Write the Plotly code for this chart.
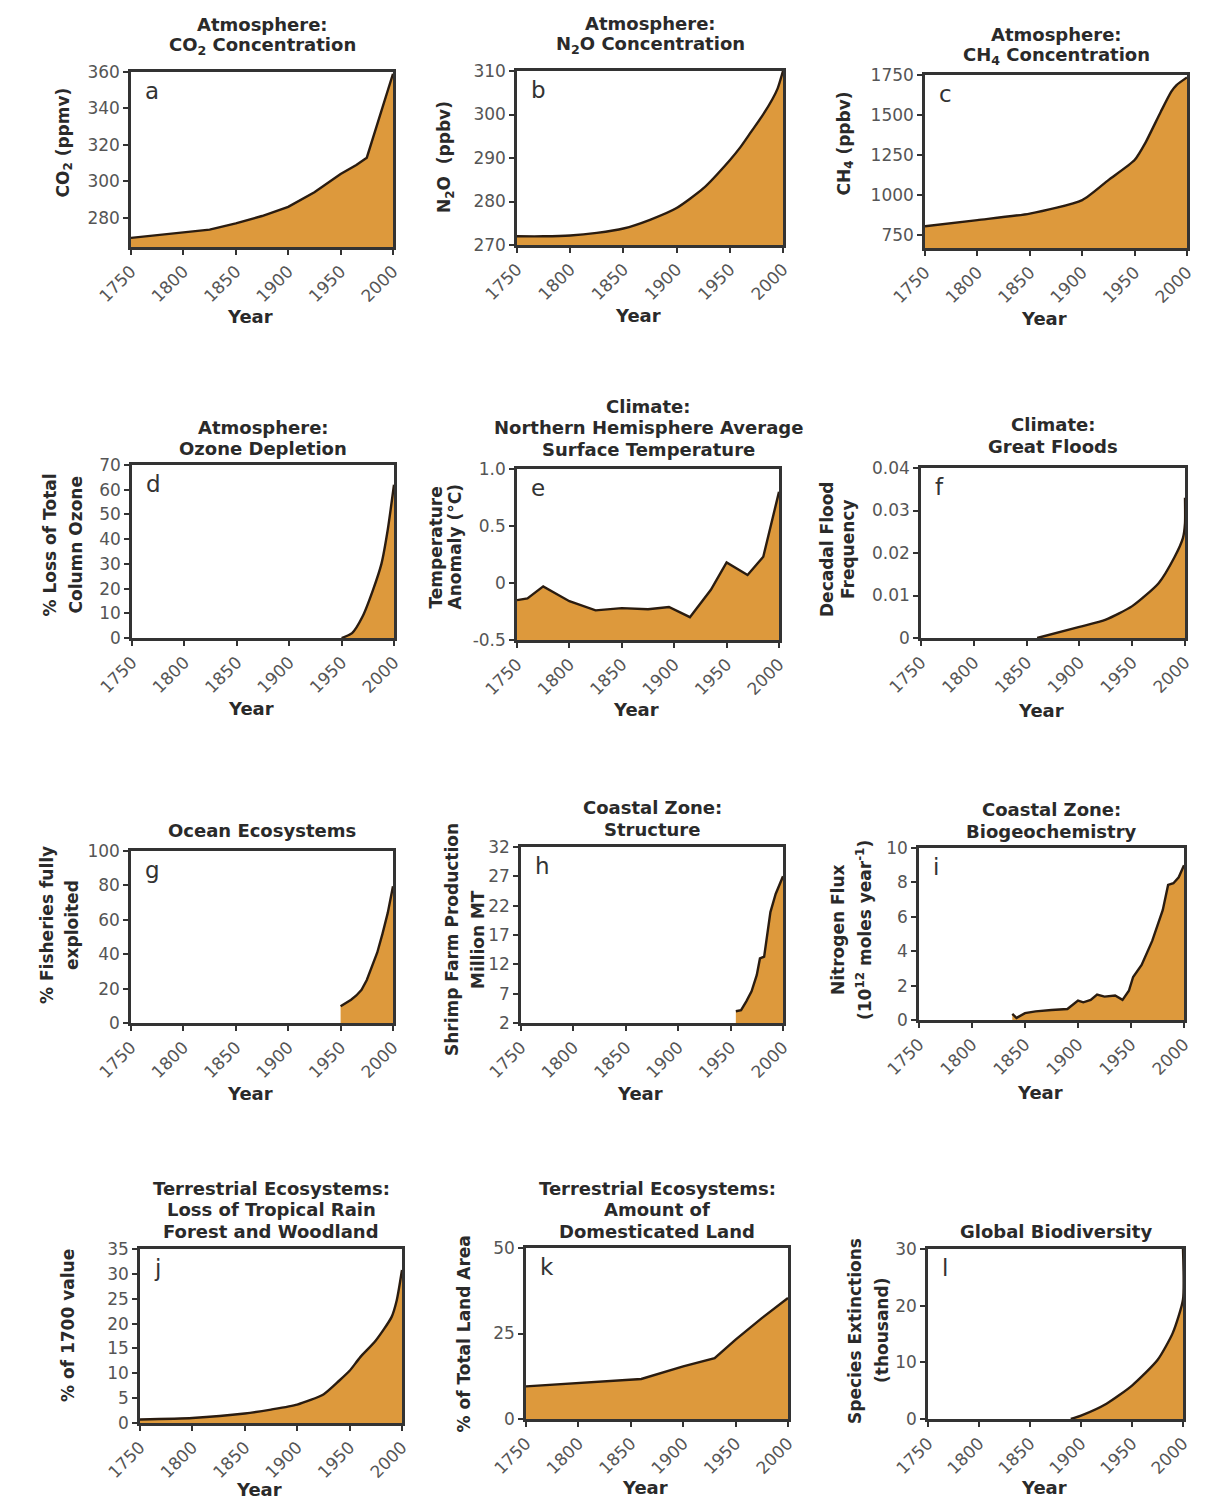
import plotly.graph_objects as go

W, H = 1213, 1499
FILL = "rgb(221,153,60)"
LINE = "#2a1c10"
FRAME = "#333333"
TXT = "#2a2a2a"
TICK = "#555555"
FONT = "DejaVu Sans"

# ---------------- data ----------------
years_a = [1750, 1800, 1825, 1850, 1875, 1900, 1925, 1950, 1965, 1975, 2000]
co2 = [269, 272, 273.5, 277, 281, 286, 294, 304, 309, 313, 359]

years_b = [1750, 1775, 1800, 1825, 1850, 1875, 1900, 1925, 1950, 1960, 1970, 1980, 1990, 1995, 2000]
n2o = [272, 272, 272.2, 272.8, 273.8, 275.8, 278.5, 283, 289.5, 292.5, 296, 299.5, 303.5, 306, 310]

years_c = [1750, 1800, 1850, 1900, 1925, 1950, 1960, 1975, 1985, 1990, 2000]
ch4 = [806, 844, 885, 969, 1094, 1219, 1323, 1521, 1646, 1687, 1735]

years_d = [1950, 1960, 1970, 1980, 1988, 1994, 2000]
ozone = [0, 2, 8.7, 19.5, 30, 43.7, 62]

years_e = [1750, 1760, 1775, 1800, 1825, 1850, 1875, 1895, 1915, 1935, 1950, 1970, 1985, 2000]
temp = [-0.15, -0.135, -0.03, -0.16, -0.24, -0.22, -0.23, -0.21, -0.30, -0.06, 0.18, 0.07, 0.23, 0.80]

years_f = [1860, 1900, 1925, 1950, 1975, 1990, 1998, 2000, 2000]
floods = [0, 0.0026, 0.0043, 0.0075, 0.0129, 0.019, 0.0235, 0.027, 0.033]

years_g = [1950, 1960, 1965, 1970, 1975, 1980, 1985, 1990, 1995, 2000]
fisheries = [9.7, 13.5, 16, 19.3, 25, 33, 41, 52, 64, 79.5]

years_h = [1955, 1960, 1965, 1970, 1975, 1978, 1982, 1985, 1988, 1993, 2000]
shrimp = [4, 4.2, 5.7, 7.4, 10.2, 13, 13.3, 17.2, 20.9, 24, 27]

years_i = [1838, 1842, 1850, 1860, 1875, 1890, 1900, 1905, 1912, 1918, 1925, 1935, 1942,
           1948, 1952, 1960, 1970, 1980, 1985, 1990, 1995, 2000]
nitrogen = [0.35, 0.12, 0.4, 0.5, 0.58, 0.64, 1.13, 1.03, 1.17, 1.48, 1.36, 1.42, 1.17,
            1.7, 2.5, 3.2, 4.6, 6.4, 7.85, 7.95, 8.3, 9.0]

years_j = [1750, 1800, 1850, 1875, 1900, 1925, 1940, 1950, 1960, 1975, 1990, 1995, 2000]
forest = [0.7, 1.0, 1.9, 2.7, 3.7, 5.75, 8.5, 10.5, 13.2, 16.6, 21.3, 24.7, 30.8]

years_k = [1750, 1800, 1860, 1900, 1930, 1950, 1975, 2000]
land = [9.55, 10.5, 11.7, 15.4, 17.8, 23.2, 29.5, 35.4]

years_l = [1890, 1900, 1925, 1950, 1975, 1990, 2000, 2000]
extinctions = [0, 0.6, 2.7, 5.9, 10.4, 15.2, 21.1, 30]

x_ticks = [1750, 1800, 1850, 1900, 1950, 2000]

panels = [
    dict(letter="a", x=years_a, y=co2, yr=[264, 360], yt=[280, 300, 320, 340, 360], ytt=None,
         title=["Atmosphere:", "CO<sub>2</sub> Concentration"], ytitle=["CO<sub>2</sub> (ppmv)"],
         px=(131, 393), py=(72, 247), tgap=25, yoffs=[67], ysh=17, smooth=False, xt=-69),
    dict(letter="b", x=years_b, y=n2o, yr=[270, 310], yt=[270, 280, 290, 300, 310], ytt=None,
         title=["Atmosphere:", "N<sub>2</sub>O Concentration"], ytitle=["N<sub>2</sub>O  (ppbv)"],
         px=(517, 783), py=(71, 245), tgap=25, yoffs=[72], ysh=1, smooth=True, xt=-70),
    dict(letter="c", x=years_c, y=ch4, yr=[670, 1750], yt=[750, 1000, 1250, 1500, 1750], ytt=None,
         title=["Atmosphere:", "CH<sub>4</sub> Concentration"], ytitle=["CH<sub>4</sub> (ppbv)"],
         px=(925, 1187), py=(75, 248), tgap=18, yoffs=[80], ysh=18, smooth=True, xt=-70),
    dict(letter="d", x=years_d, y=ozone, yr=[0, 70], yt=list(range(0, 71, 10)), ytt=None,
         title=["Atmosphere:", "Ozone Depletion"], ytitle=["% Loss of Total", "Column Ozone"],
         px=(132, 394), py=(465, 638), tgap=15, yoffs=[83, 57], ysh=6, smooth=True, xt=-70),
    dict(letter="e", x=years_e, y=temp, yr=[-0.5, 1.0], yt=[-0.5, 0, 0.5, 1.0],
         ytt=["-0.5", "0", "0.5", "1.0"],
         title=["Climate:", "Northern Hemisphere Average", "Surface Temperature"],
         ytitle=["Temperature", "Anomaly (°C)"],
         px=(517, 779), py=(469, 640), tgap=19, yoffs=[81, 62], ysh=7, smooth=False, xt=-70),
    dict(letter="f", x=years_f, y=floods, yr=[0, 0.04], yt=[0, 0.01, 0.02, 0.03, 0.04],
         ytt=["0", "0.01", "0.02", "0.03", "0.04"],
         title=["Climate:", "Great Floods"], ytitle=["Decadal Flood", "Frequency"],
         px=(921, 1185), py=(468, 638), tgap=21, yoffs=[94, 73], ysh=4, smooth=True, xt=-72),
    dict(letter="g", x=years_g, y=fisheries, yr=[0, 100], yt=list(range(0, 101, 20)), ytt=None,
         title=["Ocean Ecosystems"], ytitle=["% Fisheries fully", "exploited"],
         px=(131, 393), py=(851, 1023), tgap=20, yoffs=[84, 59], ysh=12, smooth=False, xt=-70),
    dict(letter="h", x=years_h, y=shrimp, yr=[2, 32], yt=[2, 7, 12, 17, 22, 27, 32], ytt=None,
         title=["Coastal Zone:", "Structure"], ytitle=["Shrimp Farm Production", "Million MT"],
         px=(521, 783), py=(847, 1023), tgap=17, yoffs=[69, 43], ysh=-5, smooth=False, xt=-70),
    dict(letter="i", x=years_i, y=nitrogen, yr=[0, 10], yt=[0, 2, 4, 6, 8, 10], ytt=None,
         title=["Coastal Zone:", "Biogeochemistry"],
         ytitle=["Nitrogen Flux", "(10<sup>12</sup> moles year<sup>-1</sup>)"],
         px=(919, 1184), py=(848, 1020), tgap=16, yoffs=[81, 55], ysh=4, smooth=False, xt=-72),
    dict(letter="j", x=years_j, y=forest, yr=[0, 35], yt=list(range(0, 36, 5)), ytt=None,
         title=["Terrestrial Ecosystems:", "Loss of Tropical Rain", "Forest and Woodland"],
         ytitle=["% of 1700 value"],
         px=(140, 402), py=(1249, 1423), tgap=17, yoffs=[72], ysh=10, smooth=True, xt=-66),
    dict(letter="k", x=years_k, y=land, yr=[0, 50], yt=[0, 25, 50], ytt=None,
         title=["Terrestrial Ecosystems:", "Amount of", "Domesticated Land"],
         ytitle=["% of Total Land Area"],
         px=(526, 788), py=(1248, 1419), tgap=16, yoffs=[63], ysh=-1, smooth=False, xt=-68),
    dict(letter="l", x=years_l, y=extinctions, yr=[0, 30], yt=[0, 10, 20, 30], ytt=None,
         title=["Global Biodiversity"], ytitle=["Species Extinctions", "(thousand)"],
         px=(928, 1183), py=(1249, 1419), tgap=17, yoffs=[73, 46], ysh=3, smooth=True, xt=-68),
]

TITLE_STEP = 21.5

fig = go.Figure()
annotations = []
layout = {}

for n, p in enumerate(panels, start=1):
    xa = "x" if n == 1 else f"x{n}"
    ya = "y" if n == 1 else f"y{n}"
    shape = "spline" if p["smooth"] else "linear"
    if p["letter"] == "e":
        fig.add_trace(go.Scatter(x=p["x"], y=[p["yr"][0]] * len(p["x"]), mode="lines",
                                 line=dict(width=0), hoverinfo="skip", showlegend=False,
                                 xaxis=xa, yaxis=ya))
        fill = "tonexty"
    else:
        fill = "tozeroy"
    fig.add_trace(go.Scatter(x=p["x"], y=p["y"], mode="lines",
                             line=dict(color=LINE, width=2.4, shape=shape, smoothing=0.6),
                             fill=fill, fillcolor=FILL, showlegend=False,
                             xaxis=xa, yaxis=ya))

    x0, x1 = p["px"]
    y0, y1 = p["py"]
    xkey = "xaxis" if n == 1 else f"xaxis{n}"
    ykey = "yaxis" if n == 1 else f"yaxis{n}"
    layout[xkey] = dict(domain=[x0 / W, x1 / W], anchor=ya, range=[1750, 2000],
                        tickvals=x_ticks, tickangle=-45, ticks="outside", ticklen=5,
                        tickwidth=2, tickcolor=FRAME, showline=True, linecolor=FRAME,
                        linewidth=2.5, mirror=True, showgrid=False, zeroline=False,
                        automargin=False,
                        tickfont=dict(family=FONT, size=17, color=TICK), fixedrange=True)
    yd = dict(domain=[1 - y1 / H, 1 - y0 / H], anchor=xa, range=p["yr"],
              tickvals=p["yt"], ticks="outside", ticklen=5, tickwidth=2, tickcolor=FRAME,
              showline=True, linecolor=FRAME, linewidth=2.5, mirror=True,
              showgrid=False, zeroline=False, automargin=False,
              tickfont=dict(family=FONT, size=17, color=TICK), fixedrange=True)
    if p["ytt"] is not None:
        yd["ticktext"] = p["ytt"]
    layout[ykey] = yd

    xd = f"{xa} domain"
    ydm = f"{ya} domain"
    # title, one annotation per line
    nl = len(p["title"])
    for i, line in enumerate(p["title"]):
        annotations.append(dict(text=f"<b>{line}</b>", xref=xd, yref=ydm, x=0.5, y=1,
                                xanchor="center", yanchor="middle",
                                yshift=p["tgap"] + (nl - 1 - i) * TITLE_STEP + 1,
                                showarrow=False,
                                font=dict(family=FONT, size=18, color=TXT)))
    # y title, one annotation per line
    for i, line in enumerate(p["ytitle"]):
        annotations.append(dict(text=f"<b>{line}</b>", xref=xd, yref=ydm, x=0, y=0.5,
                                xanchor="center", yanchor="middle", xshift=-p["yoffs"][i],
                                yshift=p["ysh"], textangle=-90, showarrow=False,
                                font=dict(family=FONT, size=17, color=TXT)))
    # x title
    annotations.append(dict(text="<b>Year</b>", xref=xd, yref=ydm, x=0.5, y=0,
                            xanchor="center", yanchor="middle", xshift=-12, yshift=p["xt"],
                            showarrow=False, font=dict(family=FONT, size=18, color=TXT)))
    # panel letter
    annotations.append(dict(text=p["letter"], xref=xd, yref=ydm, x=0, y=1,
                            xanchor="left", yanchor="top", xshift=12, yshift=-4,
                            showarrow=False, font=dict(family=FONT, size=23, color="#333333")))

fig.update_layout(width=W, height=H,
                  margin=dict(l=0, r=0, t=0, b=0, pad=0, autoexpand=False),
                  paper_bgcolor="white", plot_bgcolor="white",
                  annotations=annotations, showlegend=False, **layout)

fig.write_html("out.html")
